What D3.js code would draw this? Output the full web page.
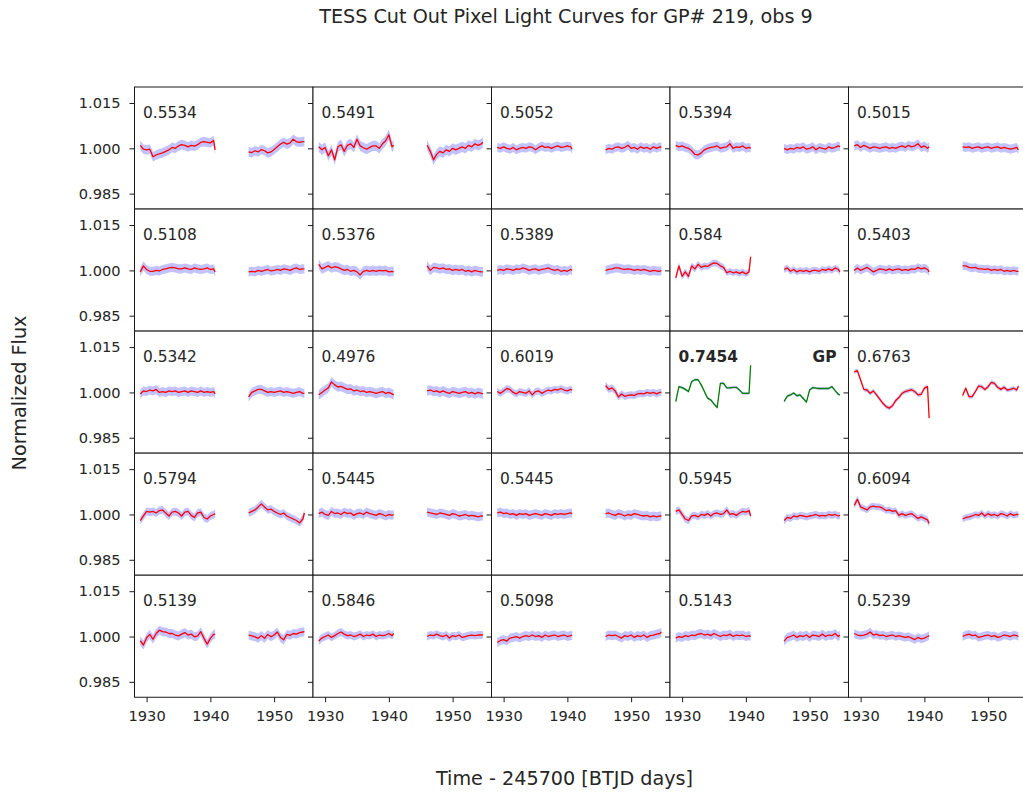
<!DOCTYPE html>
<html>
<head>
<meta charset="utf-8">
<script src="https://cdn.jsdelivr.net/npm/d3@7"></script>
<style>
  body { margin: 0; background: #fff; }
  svg { display: block; }
  text { font-family: "DejaVu Sans", sans-serif; fill: #262626; }
</style>
</head>
<body>
<svg id="fig" width="1023" height="792"></svg>
<script>
// Per-pixel correlation labels, row by row (5 x 5 cutout)
const labels = [
  "0.5534", "0.5491", "0.5052", "0.5394", "0.5015",
  "0.5108", "0.5376", "0.5389", "0.584",  "0.5403",
  "0.5342", "0.4976", "0.6019", "0.7454", "0.6763",
  "0.5794", "0.5445", "0.5445", "0.5945", "0.6094",
  "0.5139", "0.5846", "0.5098", "0.5143", "0.5239"
];
// Index of the target pixel (drawn in green)
const gpIndex = 13;

// Flux uncertainty half-width per pixel, parts per thousand
const errPpt = [
  1.6, 1.7, 1.5, 1.5, 1.5,
  1.5, 1.6, 1.5, 1.1, 1.4,
  1.5, 1.6, 1.2, 0.45, 0.7,
  1.3, 1.5, 1.5, 1.2, 1.1,
  1.5, 1.3, 1.5, 1.5, 1.4
];

// Sample times (BTJD - 245700) for the two orbits
const times1 = [1929.0, 1929.5, 1930.0, 1930.5, 1931.0, 1931.5, 1932.0, 1932.5, 1933.0, 1933.5,
                1934.0, 1934.5, 1935.0, 1935.5, 1936.0, 1936.5, 1937.0, 1937.5, 1938.0, 1938.5,
                1939.0, 1939.5, 1940.0, 1940.5, 1940.75];
const times2 = [1946.0, 1946.5, 1947.0, 1947.5, 1948.0, 1948.5, 1949.0, 1949.5, 1950.0, 1950.5,
                1951.0, 1951.5, 1952.0, 1952.5, 1953.0, 1953.5, 1954.0, 1954.5, 1954.75];

// Normalized flux deviation from 1, parts per thousand: first orbit
const orbit1 = [
  [1.0, -0.3, -0.5, -0.3, -2.8, -2.2, -1.8, -1.5, -1.0, -0.5, 0.3, 0.0, 0.8, 1.2, 1.0, 0.5, 1.0, 0.7, 1.2, 2.0, 2.2, 2.0, 1.8, 2.6, -0.5],
  [0.5, -0.5, 0.3, -2.5, -0.5, -3.8, 0.5, 1.2, -1.0, 1.0, 1.5, 0.3, 3.0, 0.8, 0.2, -0.3, 0.3, 0.8, 0.8, 0.0, 1.5, 2.5, 4.5, 0.5, 1.0],
  [0.3, 0.0, 0.5, 0.0, -0.3, 0.3, -0.5, 0.0, 0.3, 0.0, 0.5, 0.3, -0.5, 0.3, 0.8, 0.3, 0.5, 0.0, 0.5, 0.8, 0.3, 0.5, 0.8, 0.5, -0.3],
  [1.0, 0.5, 0.8, 0.3, 0.0, -0.8, -2.0, -2.2, -1.5, -0.5, 0.0, 0.3, 0.5, 0.8, 0.0, 0.3, 0.5, 1.5, 0.0, 0.5, 0.3, 0.8, 0.0, 0.3, 0.0],
  [0.8, 1.2, 0.3, 1.0, 0.5, 0.0, 0.5, 0.3, 0.0, 0.3, 0.5, 0.0, 0.3, 0.0, 0.5, 0.8, 0.3, 1.0, 0.5, 0.8, 1.5, 0.3, 0.8, 0.0, 0.5],

  [-0.5, 1.5, 0.3, -0.3, -0.3, 0.0, -0.2, 0.3, 0.5, 0.8, 1.0, 0.8, 0.5, 0.5, 0.8, 0.5, 0.3, 0.8, 0.5, 0.3, 0.5, 0.8, 0.3, 0.5, -0.5],
  [2.0, 0.5, 1.0, 1.5, 0.8, 1.2, 1.0, 0.5, 0.0, 0.3, -0.3, 0.0, -0.5, -1.5, -0.3, 0.0, -0.3, 0.0, -0.3, 0.0, -0.2, 0.0, -0.5, -0.3, -0.5],
  [0.0, 0.3, 0.0, 0.5, 0.3, 0.0, 0.5, 0.3, 0.8, 0.5, 0.0, 0.3, 0.5, 0.0, 0.3, 0.5, 0.8, 0.3, 0.0, 0.3, -0.3, 0.0, -0.3, 0.3, 0.0],
  [-2.5, 1.5, -2.0, -0.5, -2.0, 1.5, 0.5, 2.0, 1.0, 1.5, 1.3, 2.0, 2.5, 2.3, 1.5, 1.0, -0.8, -0.3, -0.8, -0.5, -1.0, -0.5, -1.2, -0.5, 4.5],
  [0.0, 0.8, 0.0, 0.5, 1.0, 0.3, -0.5, 0.0, 0.5, 0.3, 0.0, 0.5, 0.0, 0.3, 0.5, 0.0, 0.3, 0.0, 0.5, 0.3, 1.0, 0.5, 0.8, 0.3, -0.5],

  [-0.5, 0.5, 0.3, 0.8, 0.5, 1.0, 0.0, 0.3, 0.0, 0.5, 0.3, 0.5, 0.0, 0.3, 0.5, 0.0, 0.5, 0.3, 0.0, 0.5, 0.0, 0.3, 0.0, 0.3, -0.5],
  [-0.8, 0.0, 0.8, 1.5, 3.5, 2.5, 1.8, 2.0, 1.5, 1.0, 1.2, 0.5, 0.8, 0.3, 0.5, 0.0, 0.3, 0.0, -0.3, 0.0, 0.3, -0.3, 0.0, -0.5, -0.8],
  [0.3, -0.3, 0.5, 1.3, 1.0, 0.0, -0.5, 0.3, 0.0, -0.3, 0.5, -0.8, 0.3, 0.5, -0.3, 0.3, 0.8, 0.5, 1.0, 0.8, 1.3, 0.8, 0.5, 1.0, 0.8],
  [-3.0, 1.9, 1.6, 1.0, 0.3, 3.6, 4.2, 4.2, 2.5, 0.3, -1.9, -2.5, -3.8, -5.0, 3.0, 3.0, 1.5, 1.5, 1.7, 1.7, 0.8, -0.3, -0.3, -0.3, 9.0],
  [6.8, 7.2, 4.1, 1.0, 0.8, -0.3, 0.5, -0.8, -2.2, -3.6, -4.7, -5.2, -4.4, -2.7, -1.7, -0.3, 0.3, 0.6, 0.9, 0.3, -0.8, -0.6, 1.4, 1.9, -8.5],

  [-2.0, -0.5, 1.0, 0.8, 1.0, 0.5, 1.3, 1.5, 0.5, -0.5, 0.8, 1.0, 0.5, -0.5, 0.8, 1.0, -0.3, -1.0, 0.5, 0.8, -1.0, -1.5, -0.5, 0.0, 0.3],
  [0.3, 0.8, 0.0, -0.3, 1.0, 0.3, 0.5, 0.0, 0.8, 0.3, 0.5, -0.3, 0.3, 0.5, 0.0, 0.8, 0.3, 0.0, -0.3, 0.3, 0.0, -0.5, 0.0, -0.3, 0.0],
  [0.5, 0.8, 0.3, 0.5, 0.0, 0.3, -0.3, 0.3, 0.0, 0.3, -0.3, 0.0, 0.3, 0.0, -0.3, 0.3, 0.0, -0.3, 0.3, 0.0, 0.3, 0.0, 0.3, 0.5, 0.3],
  [1.0, 1.5, 0.0, -1.5, -2.0, -0.5, -0.3, -0.8, 0.0, -0.3, 0.3, -0.5, 0.3, 0.5, 0.0, 0.3, 1.5, 0.0, 0.3, -0.3, 0.5, 1.0, 0.8, 1.3, -0.5],
  [3.0, 5.0, 2.5, 2.0, 1.5, 2.5, 2.8, 2.5, 2.5, 2.0, 1.3, 1.5, 1.0, 1.3, -0.3, 0.3, -0.3, 0.0, 0.3, -0.5, -1.3, -0.8, -1.3, -1.8, -3.0],

  [-1.4, -2.8, -0.4, 0.7, -0.9, 1.0, 2.1, 1.6, 1.5, 1.0, 1.0, 0.5, 0.2, 0.8, 1.3, 0.5, 0.8, -0.1, 0.2, 1.6, -0.6, -2.5, -0.6, 0.7, 0.8],
  [-1.5, -0.5, 0.0, 0.5, -0.3, 0.3, 1.0, 1.5, 0.8, 0.3, 0.5, 0.0, 0.3, 0.8, 0.0, 0.5, 0.3, 0.8, 0.0, 0.5, 0.3, 0.5, 1.0, 0.3, 1.0],
  [-2.0, -1.3, -1.0, -1.5, -0.5, -0.3, 0.0, -0.5, 0.0, 0.3, 0.0, 0.5, 0.0, 0.3, -0.3, 0.5, 0.0, 0.3, 0.5, 0.0, 0.3, 0.5, 0.0, 0.3, 0.5],
  [-0.5, 0.0, -0.3, 0.3, 0.0, 0.5, 0.3, 0.8, 1.0, 0.5, 0.8, 0.3, 1.0, 0.5, 0.0, 0.5, 0.3, 0.8, 0.0, 0.5, 0.3, 0.5, 0.0, 0.3, 0.0],
  [1.0, 0.5, 0.3, 0.5, 0.8, 1.5, 0.5, 0.8, 0.3, 0.5, 0.0, 0.3, 0.5, 0.0, 0.3, 0.0, -0.3, 0.0, -0.5, -1.0, -0.3, -0.8, -0.5, 0.0, 0.3]
];

// Normalized flux deviation from 1, parts per thousand: second orbit
const orbit2 = [
  [-1.2, -1.4, -0.8, -1.2, -0.4, -0.8, -1.5, -1.2, -0.4, 0.5, 1.4, 2.0, 1.4, 1.8, 3.0, 2.2, 2.0, 2.2, 2.2],
  [1.0, -1.0, -3.8, -2.0, -1.0, -1.5, -0.5, -1.0, 0.0, -0.5, 0.0, 0.5, 0.0, 1.0, 0.5, 1.5, 1.0, 1.5, 2.0],
  [-0.5, 0.0, -0.3, 0.3, 0.5, 0.0, 0.3, 1.0, 0.0, 0.3, -0.3, 0.5, 0.0, 0.3, -0.3, 0.5, 0.0, 0.5, 0.3],
  [0.0, -0.5, 0.0, -0.3, 0.3, 0.0, 0.5, -0.3, 0.0, 0.5, -0.5, 0.3, 0.0, -0.3, 0.5, 0.0, 0.3, 0.8, 0.5],
  [0.5, 0.3, 0.5, 0.0, 0.3, 0.5, 0.0, 0.3, 0.5, 0.0, 0.3, 0.5, 0.0, 0.3, 0.0, -0.3, 0.0, 0.3, -0.5],

  [-0.5, -0.3, -0.5, 0.0, -0.3, 0.0, 0.3, -0.2, 0.0, 0.3, 0.0, 0.5, 0.3, 0.0, 0.5, 0.8, 0.3, 0.5, 0.5],
  [1.5, 0.0, 1.0, 0.8, 0.5, 0.8, 0.3, 0.5, 0.0, 0.3, 0.0, 0.3, -0.3, 0.0, -0.5, 0.0, -0.3, -0.5, -0.5],
  [0.0, 0.3, 0.5, 0.8, 0.8, 0.5, 0.3, 0.5, 0.3, 0.0, 0.3, 0.0, 0.3, 0.0, -0.3, 0.0, -0.2, -0.3, 0.0],
  [0.3, 0.8, -0.3, 0.3, -0.5, 0.0, -0.3, 0.0, -0.5, 0.0, 0.0, -0.3, 0.3, 0.0, 0.5, 0.0, 0.8, 0.3, -0.5],
  [1.5, 1.5, 1.0, 0.8, 1.0, 0.5, 0.5, 0.3, 0.5, 0.0, 0.3, 0.0, 0.3, -0.3, 0.0, -0.3, 0.0, -0.3, -0.3],

  [-1.5, 0.0, 0.5, 1.0, 1.0, 0.5, 0.0, 0.3, 0.0, 0.3, 0.5, 0.0, 0.3, 0.0, -0.3, 0.0, 0.3, -0.3, -0.3],
  [0.5, 0.8, 0.3, 0.5, 0.0, 0.5, 0.0, -0.3, 0.3, 0.0, -0.3, 0.0, 0.3, -0.3, 0.0, -0.5, 0.0, -0.3, -0.5],
  [2.3, 1.0, 1.5, 0.5, -1.5, -0.5, -1.3, -1.0, -0.8, -1.0, -0.5, -0.3, -0.5, 0.0, -0.3, 0.0, -0.5, 0.0, 0.0],
  [-3.0, -1.2, -0.8, -0.2, -1.1, -0.8, -2.0, -3.2, 0.8, 1.6, 1.4, 1.3, 1.3, 1.3, 1.3, 1.9, 0.6, -0.6, -0.8],
  [-1.0, 1.4, -1.4, -1.4, 0.3, 2.1, 1.9, 1.0, 1.9, 3.3, 3.0, 1.7, 1.0, 1.7, 0.8, 1.0, 1.4, 0.8, 2.1],

  [0.5, 1.0, 1.5, 2.5, 3.5, 2.5, 1.5, 1.8, 1.0, 0.5, 0.0, 0.5, -0.5, -1.0, -1.5, -2.0, -2.8, -1.5, 0.5],
  [0.8, 0.5, 0.3, 0.0, 0.5, 0.3, 0.0, -0.3, 0.3, 0.0, -0.5, -0.3, 0.0, -0.5, -0.3, -0.5, -0.8, -0.5, -0.5],
  [0.3, 0.5, 0.0, -0.3, 0.3, 0.0, -0.5, 0.0, -0.3, 0.3, 0.0, -0.3, -0.5, -0.3, -0.8, -0.5, -0.8, -0.5, -0.5],
  [-2.0, -1.0, -1.3, -0.5, -0.8, -0.3, -0.5, -0.8, -0.5, -0.3, 0.0, -0.5, -0.3, -0.5, 0.0, -0.3, 0.0, -0.5, -0.3],
  [-1.5, -1.0, -0.8, -0.5, 0.0, -0.3, 0.5, -0.5, 0.3, -0.3, 0.0, -0.5, 0.3, 0.0, -0.5, 0.3, -0.3, 0.0, 0.0],

  [0.5, 0.2, -0.1, -0.6, 0.3, -0.6, 0.7, -0.1, 0.5, 1.5, -0.3, -1.1, 0.7, 0.4, 1.0, 0.8, 1.3, 1.5, 1.6],
  [0.0, 0.5, 0.3, 0.8, 0.3, 0.0, 0.5, -0.5, 0.3, 0.0, 0.5, -0.3, 0.0, 0.3, 0.5, 0.3, 0.5, 0.5, 0.5],
  [0.0, 0.5, 0.3, 0.5, 0.0, -0.5, 0.3, 0.0, 0.5, -0.3, 0.3, 0.0, 0.5, -0.3, 0.3, 0.5, 0.8, 1.0, 1.5],
  [-1.5, -0.3, 0.0, 0.5, -0.3, 0.3, 0.0, 0.5, -0.3, 0.5, 0.3, 0.0, 0.8, 0.0, 0.5, 0.3, 1.0, 0.0, 0.5],
  [0.0, 0.5, 0.8, 0.3, 0.5, -0.3, 0.0, 0.3, 0.5, 0.0, 0.3, -0.3, 0.0, 0.5, 0.3, 0.0, 0.5, 0.3, 0.0]
];

const yTicks = [0.985, 1.000, 1.015];
const xTicks = [1930, 1940, 1950];

// ---- layout ----
const svg = d3.select("#fig");
const nCols = 5, nRows = 5;
const left0 = 134.5, top0 = 87;
const colW = 178.5, rowH = 122.05;

const x = d3.scaleLinear().domain([1928.1, 1956.1]).range([0, colW]);
const y = d3.scaleLinear().domain([0.9799, 1.0203]).range([rowH, 0]);
const flux = v => 1 + v / 1000;

labels.forEach((lab, i) => {
  const r = Math.floor(i / nCols), c = i % nCols;
  const g = svg.append("g")
    .attr("transform", `translate(${left0 + c * colW},${top0 + r * rowH})`);

  // white axes background hides outward ticks of the previous row
  g.append("rect").attr("width", colW).attr("height", rowH).attr("fill", "#fff");

  const isGP = i === gpIndex;
  const err = errPpt[i];
  [[times1, orbit1[i]], [times2, orbit2[i]]].forEach(([ts, vs]) => {
    const pts = ts.map((t, k) => ({ t, v: vs[k] }));
    g.append("path")
      .datum(pts)
      .attr("fill", "#0000ff")
      .attr("fill-opacity", 0.24)
      .attr("d", d3.area()
        .x(d => x(d.t))
        .y0(d => y(flux(d.v - err)))
        .y1(d => y(flux(d.v + err))));
    g.append("path")
      .datum(pts)
      .attr("fill", "none")
      .attr("stroke", isGP ? "#008000" : "#ff0000")
      .attr("stroke-width", 1.3)
      .attr("stroke-linejoin", "round")
      .attr("d", d3.line().x(d => x(d.t)).y(d => y(flux(d.v))));
  });

  // spines
  g.append("rect")
    .attr("width", colW).attr("height", rowH)
    .attr("fill", "none").attr("stroke", "#1a1a1a").attr("stroke-width", 1);

  // y ticks on every panel, labels only on the first column
  const ax = g.append("g").call(
    d3.axisLeft(y).tickValues(yTicks).tickSize(5).tickPadding(9)
      .tickFormat(c === 0 ? d3.format(".3f") : () => "")
  );
  ax.select(".domain").remove();
  ax.selectAll("line").attr("stroke", "#1a1a1a");
  ax.selectAll("text").attr("font-size", 14.6).attr("font-family", "DejaVu Sans").attr("fill", "#262626");

  if (r === nRows - 1) {
    const bx = g.append("g").attr("transform", `translate(0,${rowH})`).call(
      d3.axisBottom(x).tickValues(xTicks).tickSize(5).tickPadding(8).tickFormat(d3.format("d"))
    );
    bx.select(".domain").remove();
    bx.selectAll("line").attr("stroke", "#1a1a1a");
    bx.selectAll("text").attr("font-size", 14.6).attr("font-family", "DejaVu Sans").attr("fill", "#262626");
  }

  g.append("text")
    .attr("x", 8.5).attr("y", 31)
    .attr("font-size", 15.4)
    .attr("font-weight", isGP ? "bold" : "normal")
    .text(lab);

  if (isGP) {
    g.append("text")
      .attr("x", colW - 12).attr("y", 31)
      .attr("text-anchor", "end")
      .attr("font-size", 15.4)
      .attr("font-weight", "bold")
      .text("GP");
  }
});

// figure titles
svg.append("text")
  .attr("x", 566).attr("y", 23)
  .attr("text-anchor", "middle").attr("font-size", 19.2)
  .text("TESS Cut Out Pixel Light Curves for GP# 219, obs 9");

svg.append("text")
  .attr("x", 564.5).attr("y", 785)
  .attr("text-anchor", "middle").attr("font-size", 19.2)
  .text("Time - 245700 [BTJD days]");

svg.append("text")
  .attr("transform", "translate(19,393) rotate(-90)")
  .attr("text-anchor", "middle").attr("dominant-baseline", "central")
  .attr("font-size", 19.2)
  .text("Normalized Flux");
</script>
</body>
</html>
